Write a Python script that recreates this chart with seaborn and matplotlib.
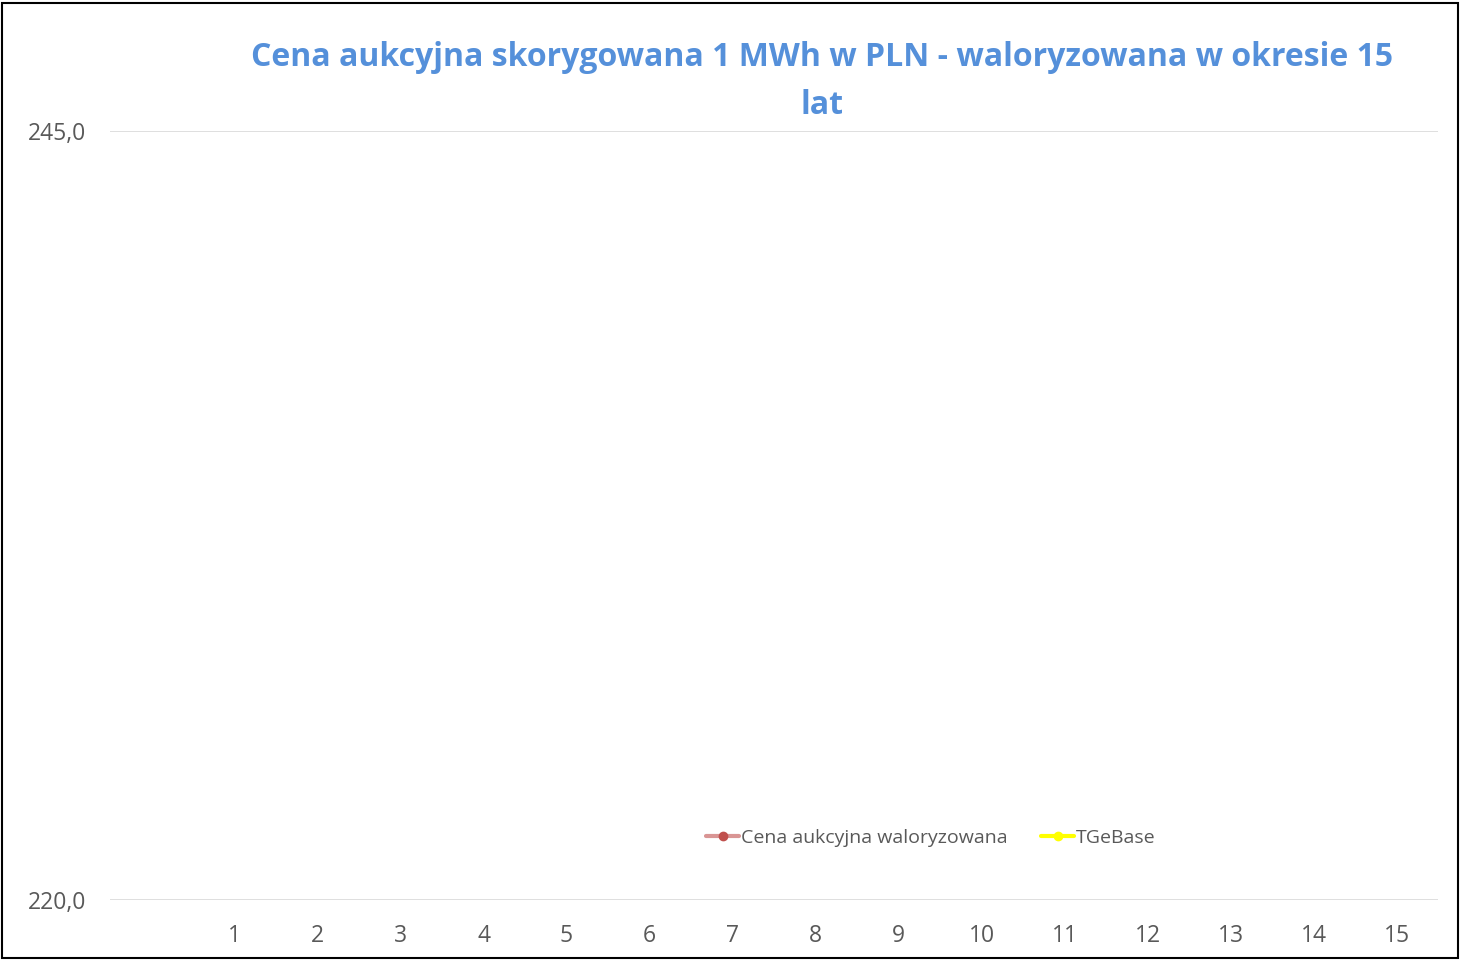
import numpy as np
import pandas as pd
import matplotlib
matplotlib.use('Agg')
import matplotlib.pyplot as plt
import seaborn as sns
from matplotlib.lines import Line2D
from matplotlib.patches import Rectangle

# DATA (no series points fall inside the visible 220-245 range)
years = ['', '1', '2', '3', '4', '5', '6', '7', '8', '9', '10', '11', '12', '13', '14', '15']
cena_waloryzowana = [np.nan] * 16
tgebase = [np.nan] * 16
y_ticks = [220.0, 245.0]
title = 'Cena aukcyjna skorygowana 1 MWh w PLN - waloryzowana w okresie 15\nlat'

sns.set_style('white')
plt.rcParams['font.family'] = ['Open Sans', 'DejaVu Sans']

fig = plt.figure(figsize=(14.61, 9.61), dpi=100)
ax = fig.add_axes([110 / 1461, 1 - 900 / 961, 1328 / 1461, 769 / 961])

df = pd.DataFrame({'rok': np.arange(len(years)),
                   'Cena aukcyjna waloryzowana': cena_waloryzowana,
                   'TGeBase': tgebase})
long = df.melt(id_vars='rok', var_name='seria', value_name='cena').dropna()
if len(long):
    sns.lineplot(data=long, x='rok', y='cena', hue='seria', marker='o',
                 palette={'Cena aukcyjna waloryzowana': '#D99594', 'TGeBase': '#FFFF00'},
                 legend=False, ax=ax)

ax.set_xlim(-0.5, len(years) - 0.5)
ax.set_ylim(y_ticks[0], y_ticks[-1])
ax.set_xticks(range(len(years)))
ax.set_xticklabels(years)
ax.set_yticks(y_ticks)
ax.set_yticklabels([f'{v:.1f}'.replace('.', ',') for v in y_ticks])
ax.tick_params(axis='both', length=0, labelsize=16.5, colors='#595959')
ax.tick_params(axis='x', pad=17)
ax.tick_params(axis='y', pad=17)
ax.set_xlabel('')
ax.set_ylabel('')
ax.grid(axis='y', color='#D9D9D9', linewidth=1.2)
ax.set_axisbelow(True)
for s in ax.spines.values():
    s.set_visible(False)

handles = [
    Line2D([], [], color='#D99594', lw=3, marker='o', markersize=6,
           markerfacecolor='#C0504D', markeredgecolor='#C0504D'),
    Line2D([], [], color='#FFFF00', lw=3, marker='o', markersize=6,
           markerfacecolor='#FFFF00', markeredgecolor='#FFFF00'),
]
fig.legend(handles, ['Cena aukcyjna waloryzowana', 'TGeBase'], loc='center',
           bbox_to_anchor=(931 / 1461, 1 - 838 / 961), ncol=2, frameon=False,
           fontsize=14, labelcolor='#595959', handlelength=1.7, handletextpad=0.1,
           columnspacing=1.7)

fig.text(822 / 1461, 1 - 81 / 961, title, ha='center', va='center',
         fontsize=23, fontweight='bold', color='#5590DA', linespacing=1.6)

fig.patches.append(Rectangle((2 / 1461, 3 / 961), 1456 / 1461, 955 / 961,
                             transform=fig.transFigure, fill=False,
                             edgecolor='black', linewidth=1.5))

fig.savefig('out.png', dpi=100, facecolor='white')
